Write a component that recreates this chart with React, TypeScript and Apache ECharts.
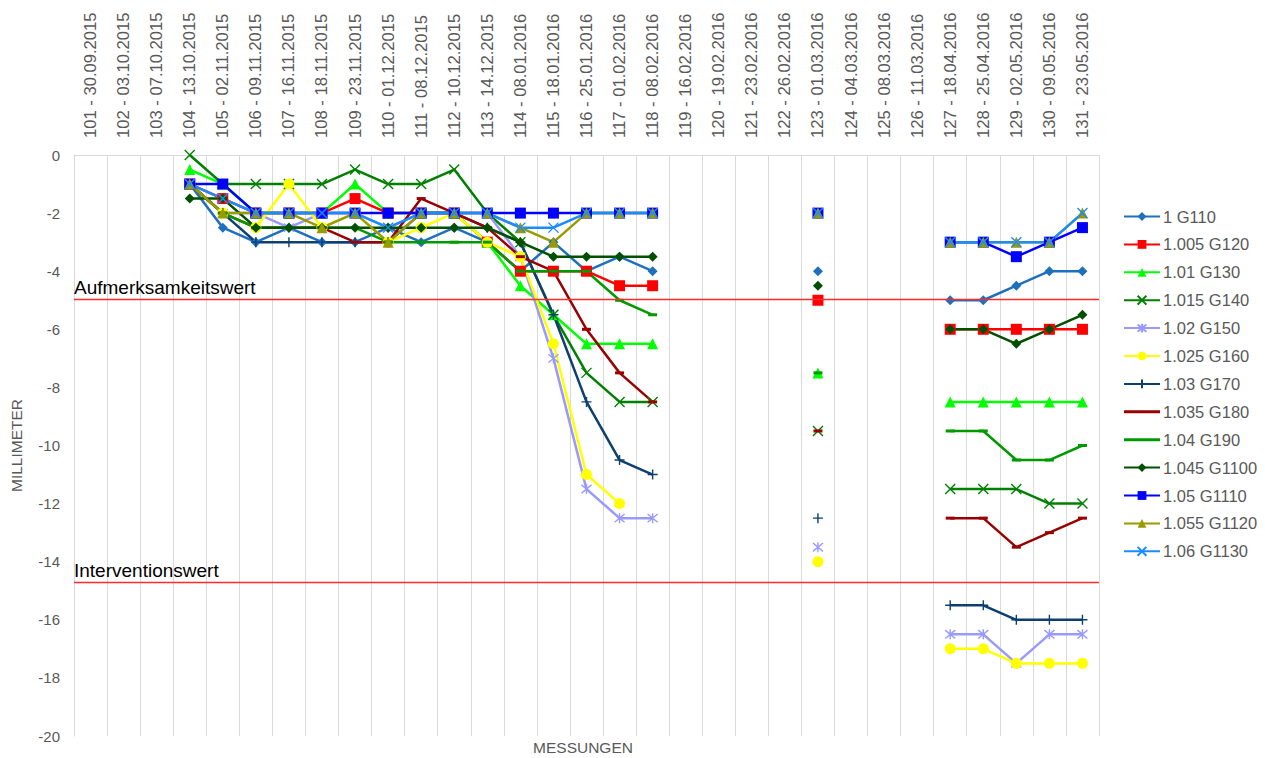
import React, { useEffect, useRef } from "react";
import * as echarts from "echarts";

const categories = [
  "101 - 30.09.2015", "102 - 03.10.2015", "103 - 07.10.2015", "104 - 13.10.2015",
  "105 - 02.11.2015", "106 - 09.11.2015", "107 - 16.11.2015", "108 - 18.11.2015",
  "109 - 23.11.2015", "110 - 01.12.2015", "111 - 08.12.2015", "112 - 10.12.2015",
  "113 - 14.12.2015", "114 - 08.01.2016", "115 - 18.01.2016", "116 - 25.01.2016",
  "117 - 01.02.2016", "118 - 08.02.2016", "119 - 16.02.2016", "120 - 19.02.2016",
  "121 - 23.02.2016", "122 - 26.02.2016", "123 - 01.03.2016", "124 - 04.03.2016",
  "125 - 08.03.2016", "126 - 11.03.2016", "127 - 18.04.2016", "128 - 25.04.2016",
  "129 - 02.05.2016", "130 - 09.05.2016", "131 - 23.05.2016",
];

const n = null;
//            101 102 103 104   105   106   107   108   109   110   111   112   113   114   115   116    117    118   119 120 121 122  123   124 125 126  127    128    129    130    131
const g110 = [n, n, n, -1, -2.5, -3, -2.5, -3, -3, -2.5, -3, -2.5, -3, -4, -3, -4, -3.5, -4, n, n, n, n, -4, n, n, n, -5, -5, -4.5, -4, -4];
const g120 = [n, n, n, -1, -1.5, -2, -2, -2, -1.5, -2, -2, -2, -3, -4, -4, -4, -4.5, -4.5, n, n, n, n, -5, n, n, n, -6, -6, -6, -6, -6];
const g130 = [n, n, n, -0.5, -1, -2, -2, -2, -1, -2, -2, -2, -3, -4.5, -5.5, -6.5, -6.5, -6.5, n, n, n, n, -7.5, n, n, n, -8.5, -8.5, -8.5, -8.5, -8.5];
const g140 = [n, n, n, 0, -1, -1, -1, -1, -0.5, -1, -1, -0.5, -2, -3, -5.5, -7.5, -8.5, -8.5, n, n, n, n, -9.5, n, n, n, -11.5, -11.5, -11.5, -12, -12];
const g150 = [n, n, n, -1, -2, -2, -2.5, -2, -2, -2.5, -2, -2, -2, -3.5, -7, -11.5, -12.5, -12.5, n, n, n, n, -13.5, n, n, n, -16.5, -16.5, -17.5, -16.5, -16.5];
const g160 = [n, n, n, -1, -2, -2.5, -1, -2.5, -2, -3, -2.5, -2, -3, -3.5, -6.5, -11, -12, n, n, n, n, n, -14, n, n, n, -17, -17, -17.5, -17.5, -17.5];
const g170 = [n, n, n, -1, -2, -3, -3, -3, -3, -3, -2, -2, -2.5, -3, -5.5, -8.5, -10.5, -11, n, n, n, n, -12.5, n, n, n, -15.5, -15.5, -16, -16, -16];
const g180 = [n, n, n, -1, -2, -2.5, -2.5, -2.5, -3, -3, -1.5, -2, -2.5, -3.5, -4, -6, -7.5, -8.5, n, n, n, n, -9.5, n, n, n, -12.5, -12.5, -13.5, -13, -12.5];
const g190 = [n, n, n, -1, -2, -2.5, -2.5, -2.5, -2.5, -3, -3, -3, -3, -4, -4, -4, -5, -5.5, n, n, n, n, -7.5, n, n, n, -9.5, -9.5, -10.5, -10.5, -10];
const g1100 = [n, n, n, -1.5, -1.5, -2.5, -2.5, -2.5, -2.5, -2.5, -2.5, -2.5, -2.5, -3, -3.5, -3.5, -3.5, -3.5, n, n, n, n, -4.5, n, n, n, -6, -6, -6.5, -6, -5.5];
const g1110 = [n, n, n, -1, -1, -2, -2, -2, -2, -2, -2, -2, -2, -2, -2, -2, -2, -2, n, n, n, n, -2, n, n, n, -3, -3, -3.5, -3, -2.5];
const g1120 = [n, n, n, -1, -2, -2, -2, -2.5, -2, -3, -2, -2, -2, -2.5, -3, -2, -2, -2, n, n, n, n, -2, n, n, n, -3, -3, -3, -3, -2];
const g1130 = [n, n, n, -1, -1.5, -2, -2, -2, -2, -2.5, -2, -2, -2, -2.5, -2.5, -2, -2, -2, n, n, n, n, -2, n, n, n, -3, -3, -3, -3, -2];

const thresholdNames = ["Aufmerksamkeitswert", "Interventionswert"];
const thresholdValues = [-4.95, -14.7];

const X_PATH = "path://M0,0L10,10M10,0L0,10";
const STAR_PATH = "path://M0,0L10,10M10,0L0,10M5,-1L5,11";
const PLUS_PATH = "path://M5,0L5,10M0,5L10,5";
const LINE_ICON = "path://M0,0H36V3H0Z";

type Def = {
  name: string;
  data: (number | null)[];
  color: string;
  symbol: string;
  size: any;
  stroke?: boolean;
  plainLegend?: boolean;
};

const defs: Def[] = [
  { name: "1 G110", data: g110, color: "#1f6fbf", symbol: "diamond", size: 10 },
  { name: "1.005 G120", data: g120, color: "#ff0000", symbol: "rect", size: 11 },
  { name: "1.01 G130", data: g130, color: "#00ff00", symbol: "triangle", size: 11 },
  { name: "1.015 G140", data: g140, color: "#008000", symbol: X_PATH, size: 10, stroke: true },
  { name: "1.02 G150", data: g150, color: "#9999ff", symbol: STAR_PATH, size: 10, stroke: true },
  { name: "1.025 G160", data: g160, color: "#ffff00", symbol: "circle", size: 11 },
  { name: "1.03 G170", data: g170, color: "#0d3f73", symbol: PLUS_PATH, size: 10, stroke: true },
  { name: "1.035 G180", data: g180, color: "#990000", symbol: "rect", size: [9, 3], plainLegend: true },
  { name: "1.04 G190", data: g190, color: "#009a00", symbol: "rect", size: [9, 3], plainLegend: true },
  { name: "1.045 G1100", data: g1100, color: "#005000", symbol: "diamond", size: 10 },
  { name: "1.05 G1110", data: g1110, color: "#0000ff", symbol: "rect", size: 11 },
  { name: "1.055 G1120", data: g1120, color: "#999900", symbol: "triangle", size: 11 },
  { name: "1.06 G1130", data: g1130, color: "#1a8cff", symbol: X_PATH, size: 10, stroke: true },
];

const GRAY = "#595959";
const FONT = "'Liberation Sans', Arial, sans-serif";

export default function App() {
  const ref = useRef<HTMLDivElement>(null);
  useEffect(() => {
    if (!ref.current) return;
    const chart = echarts.init(ref.current, undefined, { renderer: "svg" });
    const series: any[] = defs.map((d) => ({
      name: d.name,
      type: "line",
      data: d.data,
      connectNulls: false,
      symbol: d.symbol,
      symbolSize: d.size,
      showAllSymbol: true,
      lineStyle: { color: d.color, width: 2.5 },
      itemStyle: d.stroke
        ? { color: d.color, borderColor: d.color, borderWidth: 1.4 }
        : { color: d.color, borderWidth: 0 },
      emphasis: { disabled: true },
    }));
    series.push({
      name: "thresholds",
      type: "line",
      data: [],
      silent: true,
      itemStyle: { color: "#ff0000" },
      lineStyle: { color: "#ff0000" },
      markLine: {
        silent: true,
        symbol: "none",
        lineStyle: { color: "#ff2a2a", width: 1.3, type: "solid", opacity: 1 },
        emphasis: { disabled: true },
        label: {
          show: true,
          position: "insideStartTop",
          color: "#000000",
          fontSize: 19,
          fontFamily: FONT,
          distance: [0, 2],
          formatter: (p: any) => p.name,
        },
        data: thresholdValues.map((v, k) => ({ name: thresholdNames[k], yAxis: v })),
      },
    });
    chart.setOption({
      animation: false,
      textStyle: { fontFamily: FONT },
      grid: { left: 68, right: 166, top: 155, bottom: 22, containLabel: false },
      legend: {
        orient: "vertical",
        left: 1123,
        top: 208,
        padding: 0,
        itemWidth: 36,
        itemHeight: 11,
        itemGap: 10.9,
        textStyle: { color: GRAY, fontSize: 16.5, fontFamily: FONT, padding: [0, 0, 0, -2] },
        data: defs.map((d) =>
          d.plainLegend ? { name: d.name, icon: LINE_ICON, itemStyle: { color: d.color } } : d.name
        ),
      },
      xAxis: {
        type: "category",
        position: "top",
        data: categories,
        boundaryGap: true,
        axisLine: { show: true, lineStyle: { color: "#d9d9d9", width: 1 } },
        axisTick: { show: false },
        splitLine: { show: true, lineStyle: { color: "#d9d9d9", width: 1 } },
        axisLabel: { rotate: 90, interval: 0, color: GRAY, fontSize: 16.6, fontFamily: FONT, margin: 17 },
      },
      yAxis: {
        type: "value",
        min: -20,
        max: 0,
        interval: 2,
        name: "MILLIMETER",
        nameLocation: "middle",
        nameRotate: 90,
        nameGap: 50,
        nameTextStyle: { color: GRAY, fontSize: 15.5, fontFamily: FONT },
        axisLine: { show: true, lineStyle: { color: "#d9d9d9" } },
        axisTick: { show: false },
        splitLine: { show: false },
        axisLabel: { color: GRAY, fontSize: 15, fontFamily: FONT, margin: 14 },
      },
      graphic: [
        {
          type: "text",
          x: 583,
          y: 747,
          style: {
            text: "MESSUNGEN",
            fill: GRAY,
            fontSize: 15.5,
            fontFamily: FONT,
            textAlign: "center",
            textVerticalAlign: "middle",
          },
        },
      ],
      series,
    });
    return () => chart.dispose();
  }, []);
  return (
    <div
      ref={ref}
      style={{ position: "fixed", left: 0, top: 0, width: 1265, height: 758, background: "#ffffff" }}
    />
  );
}
